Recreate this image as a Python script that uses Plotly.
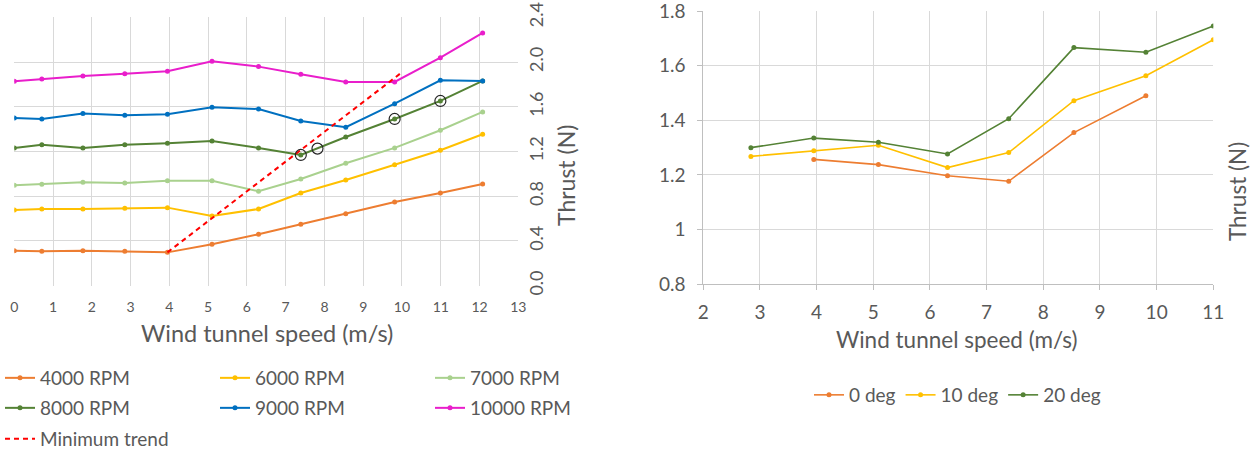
import plotly.graph_objects as go

# ---------------- data: left chart ----------------
speeds_left = [0, 0.71, 1.77, 2.85, 3.95, 5.10, 6.30, 7.39, 8.55, 9.81, 10.99, 12.08]
rpm4000 = [0.313, 0.307, 0.313, 0.307, 0.298, 0.370, 0.460, 0.549, 0.644, 0.749, 0.829, 0.909]
rpm6000 = [0.677, 0.686, 0.686, 0.692, 0.698, 0.623, 0.686, 0.829, 0.945, 1.082, 1.211, 1.354]
rpm7000 = [0.898, 0.907, 0.925, 0.919, 0.939, 0.939, 0.844, 0.954, 1.095, 1.232, 1.390, 1.554]
rpm8000 = [1.232, 1.261, 1.232, 1.261, 1.273, 1.294, 1.232, 1.169, 1.330, 1.491, 1.652, 1.831]
rpm9000 = [1.500, 1.490, 1.539, 1.524, 1.533, 1.595, 1.580, 1.473, 1.417, 1.628, 1.837, 1.831]
rpm10000 = [1.828, 1.849, 1.876, 1.896, 1.917, 2.007, 1.959, 1.891, 1.822, 1.822, 2.039, 2.260]
trend_x = [3.95, 10.02]
trend_y = [0.298, 1.914]
circle_x = [7.39, 7.82, 9.81, 10.99]
circle_y = [1.169, 1.226, 1.491, 1.652]

left_series = [
    ("4000 RPM", rpm4000, "#ED7D31", "legend"),
    ("6000 RPM", rpm6000, "#FFC000", "legend"),
    ("7000 RPM", rpm7000, "#A9D18E", "legend"),
    ("8000 RPM", rpm8000, "#548235", "legend2"),
    ("9000 RPM", rpm9000, "#0070C0", "legend2"),
    ("10000 RPM", rpm10000, "#E91ECB", "legend2"),
]

# ---------------- data: right chart ----------------
speeds_right = [2.84, 3.95, 5.09, 6.31, 7.39, 8.54, 9.81, 11.0]
deg0 = [None, 1.257, 1.238, 1.197, 1.177, 1.355, 1.490, None]
deg10 = [1.268, 1.289, 1.309, 1.227, 1.282, 1.472, 1.563, 1.695]
deg20 = [1.300, 1.335, 1.320, 1.277, 1.406, 1.666, 1.649, 1.745]
right_series = [
    ("0 deg", deg0, "#ED7D31"),
    ("10 deg", deg10, "#FFC000"),
    ("20 deg", deg20, "#548235"),
]

left_x_ticks = list(range(0, 14))
left_y_ticks = [0.0, 0.4, 0.8, 1.2, 1.6, 2.0, 2.4]
right_x_ticks = list(range(2, 12))
right_y_ticks = [0.8, 1.0, 1.2, 1.4, 1.6, 1.8]
right_y_labels = ["0.8", "1", "1.2", "1.4", "1.6", "1.8"]

W, H = 1254, 450
FONT = "Lato, 'Open Sans', sans-serif"
TXT = "#595959"
GRID = "#D9D9D9"


def px_x(p):
    return p / W


def px_y(p):
    return (H - p) / H


fig = go.Figure()

for name, vals, col, lg in left_series:
    fig.add_trace(go.Scatter(
        x=speeds_left, y=vals, name=name, mode="lines+markers",
        line=dict(color=col, width=2), marker=dict(color=col, size=5),
        xaxis="x", yaxis="y", legend=lg))

fig.add_trace(go.Scatter(
    x=trend_x, y=trend_y, name="Minimum trend", mode="lines",
    line=dict(color="#FF0000", width=2, dash="5px,4px"),
    xaxis="x", yaxis="y", legend="legend3"))

fig.add_trace(go.Scatter(
    x=circle_x, y=circle_y, mode="markers", showlegend=False,
    marker=dict(symbol="circle-open", size=11, color="#262626", line=dict(width=1.2)),
    xaxis="x", yaxis="y"))

for name, vals, col in right_series:
    fig.add_trace(go.Scatter(
        x=speeds_right, y=vals, name=name, mode="lines+markers",
        line=dict(color=col, width=1.6), marker=dict(color=col, size=5),
        connectgaps=False, xaxis="x2", yaxis="y2", legend="legend4"))

legend_common = dict(orientation="h", xanchor="left", yanchor="middle",
                     font=dict(family=FONT, size=19, color=TXT),
                     bgcolor="rgba(0,0,0,0)", itemwidth=30)

fig.update_layout(
    width=W, height=H,
    margin=dict(l=0, r=0, t=0, b=0, autoexpand=False),
    paper_bgcolor="white", plot_bgcolor="white",
    font=dict(family=FONT, color=TXT),
    xaxis=dict(domain=[px_x(14.3), px_x(518.3)], range=[0, 13],
               tickvals=left_x_ticks, showgrid=True, gridcolor=GRID, gridwidth=1,
               zeroline=False, showline=False, ticks="", ticklabelstandoff=11,
               ticklabeloverflow="allow",
               tickfont=dict(family=FONT, size=14, color=TXT), anchor="y"),
    yaxis=dict(domain=[px_y(285.7), px_y(17.3)], range=[0, 2.4],
               tickvals=left_y_ticks, tickformat=".1f", side="right", tickangle=-90,
               showgrid=True, gridcolor=GRID, gridwidth=1, zeroline=False,
               showline=False, ticks="", ticklabelstandoff=6, ticklabeloverflow="allow",
               tickfont=dict(family=FONT, size=18, color=TXT), anchor="x"),
    xaxis2=dict(domain=[px_x(703.3), px_x(1213.3)], range=[2, 11],
                tickvals=right_x_ticks, showgrid=True, gridcolor=GRID, gridwidth=1,
                zeroline=False, showline=True, linecolor="#BFBFBF", linewidth=1,
                ticks="outside", ticklen=5, tickcolor="#BFBFBF", ticklabelstandoff=6,
                ticklabeloverflow="allow",
                tickfont=dict(family=FONT, size=19, color=TXT), anchor="y2"),
    yaxis2=dict(domain=[px_y(284.3), px_y(11)], range=[0.8, 1.8],
                tickvals=right_y_ticks, ticktext=right_y_labels,
                showgrid=True, gridcolor=GRID, gridwidth=1, zeroline=False,
                showline=True, linecolor="#BFBFBF", linewidth=1,
                ticks="outside", ticklen=5, tickcolor="#BFBFBF", ticklabelstandoff=8,
                ticklabeloverflow="allow",
                tickfont=dict(family=FONT, size=19, color=TXT), anchor="x2"),
    legend=dict(legend_common, x=0, y=px_y(378), entrywidth=170, entrywidthmode="pixels"),
    legend2=dict(legend_common, x=0, y=px_y(408), entrywidth=170, entrywidthmode="pixels"),
    legend3=dict(legend_common, x=0, y=px_y(439), entrywidth=170, entrywidthmode="pixels"),
    legend4=dict(legend_common, x=px_x(809), y=px_y(395)),
    annotations=[
        dict(text="Wind tunnel speed (m/s)", x=px_x(267), y=px_y(333), xref="paper", yref="paper",
             showarrow=False, xanchor="center", yanchor="middle",
             font=dict(family=FONT, size=23.5, color=TXT)),
        dict(text="Thrust (N)", x=px_x(566), y=px_y(176), xref="paper", yref="paper",
             showarrow=False, xanchor="center", yanchor="middle", textangle=-90,
             font=dict(family=FONT, size=23, color=TXT)),
        dict(text="Wind tunnel speed (m/s)", x=px_x(957), y=px_y(339), xref="paper", yref="paper",
             showarrow=False, xanchor="center", yanchor="middle",
             font=dict(family=FONT, size=22.5, color=TXT)),
        dict(text="Thrust (N)", x=px_x(1237), y=px_y(192), xref="paper", yref="paper",
             showarrow=False, xanchor="center", yanchor="middle", textangle=-90,
             font=dict(family=FONT, size=22.5, color=TXT)),
    ],
)

fig.write_html("out.html")
